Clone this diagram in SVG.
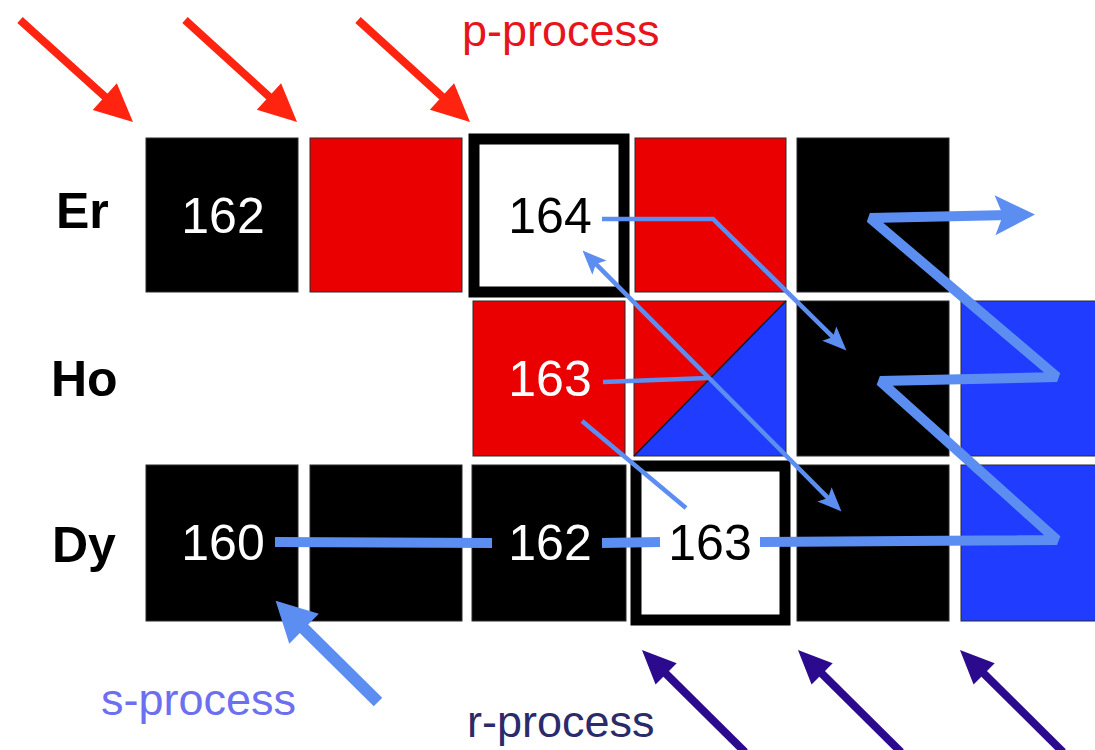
<svg xmlns="http://www.w3.org/2000/svg" width="1095" height="750" viewBox="0 0 1095 750">
  <style>
    .cell { stroke: #2a2a2a; stroke-width: 1; }
    .black { fill: #000000; }
    .red { fill: #ea0000; }
    .blue { fill: #1f3cff; }
    .open { fill: #ffffff; stroke: #000000; stroke-width: 11; }
    .elem { font-family: "Liberation Sans", Arial, sans-serif; font-weight: bold; font-size: 50px; fill: #000000; }
    .num { font-family: "Liberation Sans", Arial, sans-serif; font-size: 50px; text-anchor: middle; }
    .light { fill: #ffffff; }
    .dark { fill: #000000; }
    .proc { font-family: "Liberation Sans", Arial, sans-serif; font-size: 45px; }
    .thin { fill: none; stroke: #5c8ef2; stroke-width: 4.5; }
    .thick { fill: none; stroke: #5c8ef2; stroke-width: 10; stroke-linejoin: bevel; }
    .pArrow { stroke: #ff2410; stroke-width: 8; }
    .rArrow { stroke: #2c0a8e; stroke-width: 8; }
    .sArrow { stroke: #5c8ef2; stroke-width: 12; }
  </style>
  <defs>
    <marker id="headRed" markerUnits="userSpaceOnUse" orient="auto" overflow="visible" refX="24" refY="0" markerWidth="40" markerHeight="40">
      <path d="M0,-18 L38,0 L0,18 Z" fill="#ff2410"/>
    </marker>
    <marker id="headPurple" markerUnits="userSpaceOnUse" orient="auto" overflow="visible" refX="22" refY="0" markerWidth="40" markerHeight="40">
      <path d="M0,-15 L34,0 L0,15 Z" fill="#2c0a8e"/>
    </marker>
    <marker id="headS" markerUnits="userSpaceOnUse" orient="auto" overflow="visible" refX="24" refY="0" markerWidth="40" markerHeight="40">
      <path d="M0,-21 L40,0 L0,21 Z" fill="#5c8ef2"/>
    </marker>
    <marker id="headThin" markerUnits="userSpaceOnUse" orient="auto-start-reverse" overflow="visible" refX="14" refY="0" markerWidth="30" markerHeight="30">
      <path d="M0,-10 L24,0 L0,10 L5,0 Z" fill="#5c8ef2"/>
    </marker>
    <marker id="headThick" markerUnits="userSpaceOnUse" orient="auto" overflow="visible" refX="15" refY="0" markerWidth="50" markerHeight="50">
      <path d="M0,-20 L40,0 L0,20 L8,0 Z" fill="#5c8ef2"/>
    </marker>
  </defs>

  <rect width="1095" height="750" fill="#ffffff"/>

  <!-- element labels -->
  <text class="elem" x="56" y="228">Er</text>
  <text class="elem" x="51" y="396">Ho</text>
  <text class="elem" x="52" y="562">Dy</text>

  <!-- Er row -->
  <g id="er162">
    <rect class="cell black" x="146" y="138" width="152" height="154"/>
    <text class="num light" x="223" y="233">162</text>
  </g>
  <g id="er163"><rect class="cell red" x="310" y="138" width="152" height="154"/></g>
  <g id="er164">
    <rect class="open" x="474" y="139" width="150" height="153"/>
    <text class="num dark" x="550" y="233">164</text>
  </g>
  <g id="er165"><rect class="cell red" x="635" y="138" width="151" height="154"/></g>
  <g id="er166"><rect class="cell black" x="797" y="138" width="152" height="154"/></g>

  <!-- Ho row -->
  <g id="ho163">
    <rect class="cell red" x="473" y="301" width="152" height="155"/>
    <text class="num light" x="550" y="396">163</text>
  </g>
  <g id="ho164">
    <polygon class="red" points="634,301 786,301 634,456"/>
    <polygon class="blue" points="786,301 786,456 634,456"/>
    <rect x="634" y="301" width="152" height="155" fill="none" stroke="#2a2a2a" stroke-width="1"/>
    <line x1="786" y1="301" x2="634" y2="456" stroke="#1a1a1a" stroke-width="1.5"/>
  </g>
  <g id="ho165"><rect class="cell black" x="797" y="301" width="152" height="155"/></g>
  <g id="ho166"><rect class="cell blue" x="961" y="301" width="150" height="155"/></g>

  <!-- Dy row -->
  <g id="dy160">
    <rect class="cell black" x="146" y="465" width="152" height="156"/>
    <text class="num light" x="223" y="560">160</text>
  </g>
  <g id="dy161"><rect class="cell black" x="310" y="465" width="152" height="156"/></g>
  <g id="dy162">
    <rect class="cell black" x="472" y="465" width="154" height="156"/>
    <text class="num light" x="550" y="560">162</text>
  </g>
  <g id="dy163">
    <rect class="open" x="636" y="466" width="149" height="154"/>
    <text class="num dark" x="710" y="560">163</text>
  </g>
  <g id="dy164"><rect class="cell black" x="797" y="465" width="152" height="156"/></g>
  <g id="dy165"><rect class="cell blue" x="961" y="465" width="150" height="156"/></g>

  <!-- process labels -->
  <text class="proc" x="462" y="46" fill="#e8141c">p-process</text>
  <text class="proc" x="101" y="715" fill="#6b6ff0">s-process</text>
  <text class="proc" x="467" y="737" fill="#2b2b6b">r-process</text>

  <g id="connectors">
    <!-- p-process feeds -->
    <line class="pArrow" x1="20" y1="20" x2="122.6" y2="112.6" marker-end="url(#headRed)"/>
    <line class="pArrow" x1="185" y1="20" x2="286.7" y2="112.6" marker-end="url(#headRed)"/>
    <line class="pArrow" x1="358" y1="20" x2="459.7" y2="112.6" marker-end="url(#headRed)"/>

    <!-- r-process feeds -->
    <line class="rArrow" x1="745" y1="752" x2="650.5" y2="658.4" marker-end="url(#headPurple)"/>
    <line class="rArrow" x1="901" y1="752" x2="806.5" y2="658.4" marker-end="url(#headPurple)"/>
    <line class="rArrow" x1="1063" y1="752" x2="968.5" y2="658.4" marker-end="url(#headPurple)"/>

    <!-- s-process entry -->
    <line class="sArrow" x1="378" y1="702" x2="287" y2="611.9" marker-end="url(#headS)"/>

    <!-- s-process path -->
    <path class="thick" d="M275,542 L492,543"/>
    <path class="thick" d="M602,543 L660,542"/>
    <path class="thick" d="M760,542 L1057,540 L880,381 L1057,377 L870,218 L1010,215" marker-end="url(#headThick)"/>

    <!-- branching decays -->
    <polyline class="thin" points="602,219 713,219 839.3,343.4" marker-end="url(#headThin)"/>
    <line class="thin" x1="589.6" y1="257.7" x2="834.4" y2="504.3" marker-start="url(#headThin)" marker-end="url(#headThin)"/>
    <line class="thin" x1="603" y1="382" x2="708" y2="378"/>
    <line class="thin" x1="582" y1="421" x2="686" y2="508"/>
  </g>
</svg>
